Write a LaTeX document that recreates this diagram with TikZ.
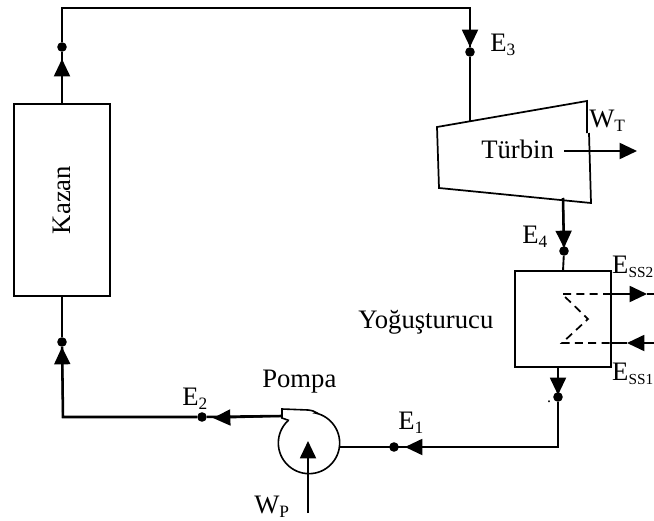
\documentclass[tikz,border=0pt]{standalone}
\usepackage{fontspec}
\setmainfont{Liberation Serif}
\usetikzlibrary{arrows.meta}
\newcommand{\lbl}[2]{#1{\fontsize{13pt}{13pt}\selectfont\raisebox{-0.28em}{#2}}}
\newcommand{\lbls}[2]{#1{\fontsize{11.5pt}{11.5pt}\selectfont\raisebox{-0.28em}{#2}}}
\tikzset{
  pipe/.style={line width=1.4pt,black},
  thick pipe/.style={line width=1.9pt,black},
  box/.style={draw,line width=1.4pt,inner sep=0pt,outer sep=0pt},
  dot/.style={circle,fill=black,inner sep=0pt,minimum size=7.2pt},
  txt/.style={inner sep=0pt,font=\fontsize{20pt}{22pt}\selectfont},
  head/.style={line width=1.4pt,-{Triangle[length=13pt,width=12pt]}},
  coil/.style={line width=1.3pt,dash pattern=on 6pt off 4pt}
}
\begin{document}
\begin{tikzpicture}[x=0.75pt,y=-0.75pt]
\useasboundingbox (0,0) rectangle (654,521);
% components
\node[box,rotate=90,minimum width=144pt,minimum height=72pt,txt] (kazan) at (62,200) {Kazan};
\node[box,minimum width=72pt,minimum height=72pt] (yog) at (563,319) {};
\node[circle,draw,line width=1.2pt,minimum size=46pt,inner sep=0pt,outer sep=0pt] (pompa) at (309,443) {};
\coordinate (t1) at (437,127); \coordinate (t2) at (587,101);
\coordinate (t3) at (587,133); \coordinate (t4) at (589,133);
\coordinate (t5) at (591,203); \coordinate (t6) at (439,188);
\draw[line width=1.3pt,line join=miter] (t3) -- (t2) -- (t1) -- (t6) -- (t5) -- (t4);
\fill[white] (284,410) -- (317,410) -- (298,424) -- (285,420) -- cycle;
\draw[line width=1.2pt,line join=miter] (289,420.5) -- (282,418) -- (282,409) -- (308,410) .. controls (312,410.3) and (315,411.5) .. (318,413.5);
% dots
\node[dot] (d0) at (62,47) {};
\node[dot] (d3) at (470,52) {};
\node[dot] (d4) at (564,251) {};
\node[dot] (d5) at (558,397) {};
\node[dot] (d1) at (394,447) {};
\node[dot] (d2) at (202,417) {};
\node[dot] (d6) at (62,342) {};
% coordinates
\coordinate (c1) at (62,8); \coordinate (c2) at (470,8);
\coordinate (b1) at (62,59); \coordinate (b2) at (470,47);
\coordinate (tin) at (470,121);
\coordinate (tout) at (563,198);
\coordinate (b4) at (564,248);
\coordinate (b5) at (558,395);
\coordinate (c3) at (558,447);
\coordinate (b1a) at (405,447);
\coordinate (c4) at (63,417);
\coordinate (b2a) at (213,418); \coordinate (a2) at (281,416);
\coordinate (b6) at (62,347);
\coordinate (wpa) at (308,513); \coordinate (wpb) at (308,441);
\coordinate (wta) at (564,151); \coordinate (wtb) at (637,151);
\coordinate (cz1) at (562,294); \coordinate (cz2) at (588,319); \coordinate (cz3) at (562,343);
\coordinate (cr1) at (611,294); \coordinate (cr2) at (611,343);
\coordinate (ca) at (647,294); \coordinate (cb) at (627,343);
\coordinate (ea) at (654,294); \coordinate (eb) at (654,343);
% connectors
\draw[pipe] (kazan.east) -- (d0) -- (c1) -- (c2) -- (d3) -- (tin);
\draw[head] (kazan.east) -- (b1);
\draw[head] (c2) -- (b2);
\draw[thick pipe] (tout) -- (d4);
\draw[head] (tout) -- (b4);
\draw[pipe] (d4) -- (yog.north);
\draw[thick pipe] (yog.south -| d5) -- (d5);
\draw[head] (yog.south -| d5) -- (b5);
\draw[pipe] (d5) -- (c3) -- (pompa.east |- c3);
\draw[head] (c3) -- (b1a);
\draw[thick pipe] (a2) -- (d2) -- (c4) -- (d6);
\draw[head] (a2) -- (b2a);
\draw[head] (c4) -- (b6);
\draw[pipe] (d6) -- (kazan.west);
\draw[head] (wpa) -- (wpb);
\draw[head] (wta) -- (wtb);
\draw[coil] (cr1) -- (cz1) -- (cz2) -- (cz3) -- (cr2);
\draw[head] (cr1) -- (ca);
\draw[pipe] (ca) -- (ea);
\draw[head] (eb) -- (cb);
\draw[pipe] (cb) -- (cr2);
% labels
\node[txt,anchor=base west] (tE3) at (490,51) {\lbl{E}{3}};
\node[txt,anchor=base west] (tWT) at (589,127) {\lbl{W}{T}};
\node[txt,anchor=base west] (tTu) at (481,158) {Türbin};
\node[txt,anchor=base west] (tE4) at (522,243) {\lbl{E}{4}};
\node[txt,anchor=base east] (tS2) at (653.5,273) {\lbls{E}{SS2}};
\node[txt,anchor=base west] (tYo) at (358,328) {Yoğuşturucu};
\node[txt,anchor=base east] (tS1) at (653.5,380) {\lbls{E}{SS1}};
\node[txt,anchor=base west] (tPo) at (262,387) {Pompa};
\node[txt,anchor=base west] (tE2) at (182,405) {\lbl{E}{2}};
\node[txt,anchor=base west] (tE1) at (398,429) {\lbl{E}{1}};
\node[txt,anchor=base west] (tWP) at (254,513) {\lbl{W}{P}};
\node[inner sep=0pt,font=\fontsize{12pt}{12pt}\selectfont,anchor=base] (tdot) at (549,402) {.};
\end{tikzpicture}
\end{document}
